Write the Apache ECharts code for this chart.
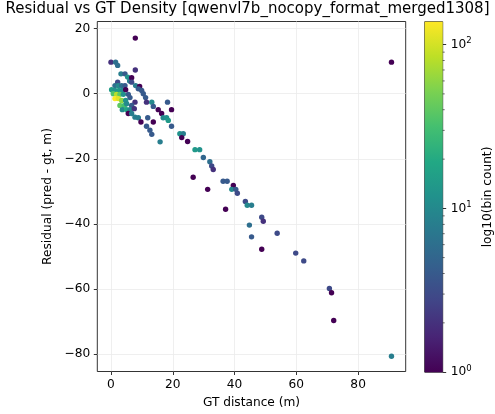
<!DOCTYPE html>
<html><head><meta charset="utf-8">
<script src="https://cdn.jsdelivr.net/npm/echarts@6/dist/echarts.min.js"></script>
<style>html,body{margin:0;padding:0;background:#fff}#c{width:495px;height:414px}</style>
</head><body><div id="c"></div>
<script>
// Hexbin centres (GT distance, residual) and bin counts
const gtDistance = [
  0, 1.5, 2.16, 3.24, 4.53, 5.4, 6.04, 6.69, 6.69, 7.87, 7.87, 7.98, 9.28, 8.85, 9.93, 10.46, 11.2, 11.5, 13.2, 13.7,
  15.3, 16.4, 18.3, 19.6, 16.9, 18.0, 18.55, 19.6, 22.3, 23.4, 22.9, 24.8, 27.2, 28.7, 29.9, 32.0, 32.6, 33.1,
  2.16, 1.29, 2.37, 3.45, 4.53, 0.2, 1.29, 2.6, 3.67, 4.75, 0.75, 1.83, 2.9, 4.0, 5.6, 1.29, 2.37, 3.45, 4.75, 6.15,
  7.77, 2.9, 4.3, 5.07, 6.69, 3.67, 5.07, 6.15, 7.55, 5.6, 6.69, 7.77, 8.85, 9.7, 11.9, 13.7, 11.5, 12.6, 13.2, 15.9,
  26.6, 31.3, 36.3, 37.6, 39.6, 39.1, 40.4, 40.9, 37.1, 43.5, 44.1, 45.5, 48.8, 49.3, 44.8, 45.5, 53.8, 48.8,
  59.8, 62.4, 70.7, 71.4, 72.1, 90.8, 90.8
];
const residual = [
  9.7, 9.7, 8.7, 6.1, 6.1, 5.1, 3.9, 4.9, 3.56, 7.3, 17.1, 2.5, 2.2, 1.5, 1.0, 0, -1.2, -2.6, -2.6, -3.9,
  -4.9, -6.1, -2.6, -4.9, -7.4, -7.4, -8.2, -10.0, -12.3, -12.3, -13.5, -14.7, -17.2, -17.2, -19.6, -20.9, -22.2, -23.3,
  3.56, 2.5, 2.5, 2.5, 2.5, 1.2, 1.0, 1.0, 1.0, 1.2, 0, -0.2, -0.2, -0.2, -0.2, -1.5, -1.5, -2.05, -2.05, -1.2,
  -2.6, -3.6, -3.6, -3.1, -3.6, -4.9, -4.9, -4.9, -4.6, -6.1, -6.1, -7.2, -7.4, -8.7, -7.4, -8.7, -10.0, -11.2, -12.5, -14.8,
  -25.7, -29.4, -26.9, -26.9, -28.2, -29.4, -29.4, -30.6, -35.5, -33.1, -34.3, -34.3, -38.0, -39.2, -40.4, -44.0, -42.9, -47.8,
  -49.0, -51.4, -59.9, -61.2, -69.7, -80.7, 9.7
];
const binCount = [
  2, 6, 6, 8, 4, 12, 8, 1, 3, 2, 1, 8, 1, 4, 4, 4, 4, 2, 10, 4,
  1, 1, 4, 1, 10, 12, 14, 4, 12, 8, 1, 1, 14, 12, 5, 6, 3, 2,
  3, 6, 10, 6, 4, 15, 12, 14, 10, 1, 35, 80, 40, 12, 4, 138, 110, 60, 12, 4,
  2, 40, 30, 10, 4, 10, 18, 10, 2, 1, 8, 8, 8, 1, 4, 1, 4, 4, 4, 8,
  1, 1, 4, 4, 1, 10, 4, 3, 1, 3, 10, 8, 3, 2, 6, 4, 3, 1,
  3, 3, 3, 1, 1, 8, 1
];
const xTicks = [0, 20, 40, 60, 80];
const yTicks = [-80, -60, -40, -20, 0, 20];
const cbarMajor = [1, 10, 100];
const cbarMinor = [2, 3, 4, 5, 6, 7, 8, 9, 20, 30, 40, 50, 60, 70, 80, 90];

const viridis = ['#440154','#482475','#414487','#355f8d','#2a788e','#21918c','#22a884','#44bf70','#7ad151','#bddf26','#fde725'];
const FONT = 'DejaVu Sans';
const FS = 12.2;
const maxCount = Math.max.apply(null, binCount);
const logMax = Math.log10(maxCount);

const pts = gtDistance.map((x, i) => [x, residual[i], Math.log10(binCount[i])]);

const chart = echarts.init(document.getElementById('c'), null, {renderer: 'canvas'});
const gradStops = viridis.map((c, i) => ({offset: i / (viridis.length - 1), color: c}));

chart.setOption({
  animation: false,
  backgroundColor: '#fff',
  title: {
    text: 'Residual vs GT Density [qwenvl7b_nocopy_format_merged1308]',
    left: 'center', top: 0, padding: [2, 0, 2, 10],
    textStyle: {fontFamily: FONT, fontSize: 15, fontWeight: 'normal', color: '#000'}
  },
  grid: [
    {left: 97.3, top: 21.5, width: 308.4, height: 351.2, show: true, borderColor: '#000', borderWidth: 0.8, backgroundColor: 'transparent'},
    {left: 424.7, top: 21.7, width: 18, height: 350.5, show: true, borderColor: '#000', borderWidth: 0.8, backgroundColor: 'transparent'}
  ],
  xAxis: [
    {
      type: 'value', gridIndex: 0, min: -4.43, max: 95.4,
      name: 'GT distance (m)', nameLocation: 'middle', nameGap: 25.5,
      nameTextStyle: {fontFamily: FONT, fontSize: FS, color: '#000'},
      axisLine: {show: false, onZero: false},
      axisTick: {show: true, length: 3.5, lineStyle: {color: '#000', width: 0.8}, customValues: xTicks},
      axisLabel: {fontFamily: FONT, fontSize: FS, color: '#000', margin: 7, customValues: xTicks,
        formatter: v => xTicks.indexOf(v) >= 0 ? String(v) : ''},
      splitLine: {show: true, lineStyle: {color: '#ebebeb', width: 0.8}}
    },
    {type: 'category', gridIndex: 1, data: ['cb'], show: false}
  ],
  yAxis: [
    {
      type: 'value', gridIndex: 0, min: -85.4, max: 22.2,
      name: 'Residual (pred - gt, m)', nameLocation: 'middle', nameGap: 33.5, nameRotate: 90,
      nameTextStyle: {fontFamily: FONT, fontSize: FS, color: '#000'},
      axisLine: {show: false, onZero: false},
      axisTick: {show: true, length: 3.5, lineStyle: {color: '#000', width: 0.8}, customValues: yTicks},
      axisLabel: {fontFamily: FONT, fontSize: FS, color: '#000', margin: 7, customValues: yTicks,
        formatter: v => yTicks.indexOf(v) >= 0 ? String(v).replace('-', '\u2212') : ''},
      splitLine: {show: true, lineStyle: {color: '#ebebeb', width: 0.8}}
    },
    {
      type: 'value', gridIndex: 1, min: 0, max: logMax, position: 'right',
      name: 'log10(bin count)', nameLocation: 'middle', nameGap: 39, nameRotate: 90,
      nameTextStyle: {fontFamily: FONT, fontSize: FS, color: '#000'},
      axisLine: {show: false},
      axisTick: {show: true, length: 3.5, lineStyle: {color: '#000', width: 0.8}, customValues: cbarMajor.map(Math.log10)},
      axisLabel: {
        fontFamily: FONT, fontSize: FS, color: '#000', margin: 8,
        customValues: cbarMajor.map(Math.log10),
        formatter: v => '10{s|' + Math.round(v) + '}',
        rich: {s: {fontFamily: FONT, fontSize: 8.5, color: '#000', padding: [0, 0, 7, 0]}}
      },
      splitLine: {show: false}
    }
  ],
  visualMap: {
    type: 'continuous', show: false, dimension: 2, min: 0, max: logMax, seriesIndex: 0,
    inRange: {color: viridis}
  },
  series: [
    {
      type: 'scatter', xAxisIndex: 0, yAxisIndex: 0, data: pts,
      symbol: 'circle', symbolSize: 5.4, itemStyle: {opacity: 1}, silent: true
    },
    {
      type: 'bar', xAxisIndex: 1, yAxisIndex: 1, data: [logMax], barWidth: '100%', silent: true,
      itemStyle: {color: new echarts.graphic.LinearGradient(0, 1, 0, 0, gradStops)}
    },
    {
      type: 'scatter', xAxisIndex: 1, yAxisIndex: 1, silent: true,
      data: cbarMinor.map(v => ['cb', Math.log10(v)]),
      symbol: 'rect', symbolSize: [2, 0.7], symbolOffset: [10, 0],
      itemStyle: {color: '#000'}
    }
  ]
});
</script>
</body></html>
